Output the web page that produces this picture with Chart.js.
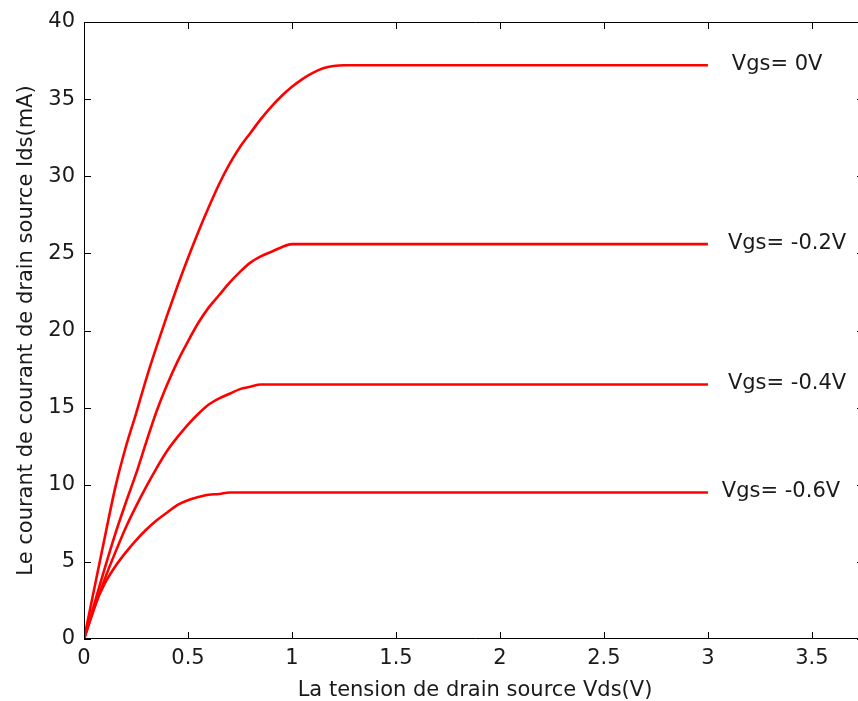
<!DOCTYPE html>
<html>
<head>
<meta charset="utf-8">
<script src="https://cdn.jsdelivr.net/npm/chart.js@4/dist/chart.umd.min.js"></script>
<style>
  html, body { margin: 0; padding: 0; background: #fff; overflow: hidden; }
  #wrap { position: relative; width: 858px; height: 701px; overflow: hidden; }
  #ivChart { position: absolute; left: 0; top: 0; display: block; width: 866px; height: 701px; }
</style>
</head>
<body>
<div id="wrap"><canvas id="ivChart" width="866" height="701"></canvas></div>
<script>
// Vds sample points (V)
const vds = [0, 0.05, 0.1, 0.15, 0.2, 0.25, 0.3, 0.35, 0.4, 0.45, 0.5, 0.55, 0.6, 0.65, 0.7,
  0.75, 0.8, 0.85, 0.9, 0.95, 1.0, 1.05, 1.1, 1.15, 1.2, 1.25, 1.3, 3.0];

// Ids (mA) for each Vgs
const idsVgs0 = [0, 3.3, 6.6, 9.8, 12.4, 14.6, 16.9, 19.0, 21.0, 22.9, 24.7, 26.4, 28.0, 29.5, 30.8,
  31.9, 32.8, 33.7, 34.5, 35.2, 35.8, 36.3, 36.7, 37.0, 37.15, 37.2, 37.2, 37.2];
const idsVgsM02 = [0, 2.3, 4.6, 6.8, 8.8, 10.7, 12.8, 14.8, 16.5, 18.0, 19.3, 20.5, 21.5, 22.3, 23.1,
  23.8, 24.4, 24.8, 25.1, 25.4, 25.6, 25.6, 25.6, 25.6, 25.6, 25.6, 25.6, 25.6];
const idsVgsM04 = [0, 2.0, 3.9, 5.6, 7.2, 8.6, 9.9, 11.1, 12.2, 13.1, 13.9, 14.6, 15.2, 15.6, 15.9,
  16.2, 16.35, 16.5, 16.5, 16.5, 16.5, 16.5, 16.5, 16.5, 16.5, 16.5, 16.5, 16.5];
const idsVgsM06 = [0, 2.1, 3.6, 4.7, 5.6, 6.4, 7.1, 7.7, 8.2, 8.7, 9.0, 9.2, 9.35, 9.4, 9.5,
  9.5, 9.5, 9.5, 9.5, 9.5, 9.5, 9.5, 9.5, 9.5, 9.5, 9.5, 9.5, 9.5];

const seriesNames = ['Vgs= 0V', 'Vgs= -0.2V', 'Vgs= -0.4V', 'Vgs= -0.6V'];
const seriesIds = [idsVgs0, idsVgsM02, idsVgsM04, idsVgsM06];

// curve labels, anchored in data units
const labelX = [3.115, 3.096, 3.096, 3.067];
const labelY = [37.2, 25.6, 16.5, 9.5];

const xTicks = [0, 0.5, 1, 1.5, 2, 2.5, 3, 3.5];
const yTicks = [0, 5, 10, 15, 20, 25, 30, 35, 40];

const FONT = 'DejaVu Sans';
const TEXT = '#1a1a1a';

const datasets = seriesIds.map((ids, i) => ({
  label: seriesNames[i],
  data: vds.map((v, k) => ({ x: v, y: ids[k] })),
  borderColor: '#ff0000',
  borderWidth: 2.6,
  pointRadius: 0,
  showLine: true,
  fill: false,
  cubicInterpolationMode: 'monotone'
}));

// box, inward ticks and the Vgs labels
const matlabAxes = {
  id: 'matlabAxes',
  afterDraw(chart) {
    const { ctx, chartArea: a, scales: { x, y } } = chart;
    ctx.save();
    ctx.strokeStyle = '#000';
    ctx.lineWidth = 1;
    ctx.beginPath();
    // left, bottom, top (right side lies past the picture edge)
    ctx.moveTo(a.left + 0.5, a.top + 0.5);
    ctx.lineTo(a.left + 0.5, a.bottom - 0.5);
    ctx.lineTo(a.right, a.bottom - 0.5);
    ctx.moveTo(a.left + 0.5, a.top + 0.5);
    ctx.lineTo(a.right, a.top + 0.5);
    const len = 7;
    xTicks.forEach(v => {
      const px = Math.round(x.getPixelForValue(v)) + 0.5;
      ctx.moveTo(px, a.bottom); ctx.lineTo(px, a.bottom - len);
      ctx.moveTo(px, a.top); ctx.lineTo(px, a.top + len);
    });
    yTicks.forEach(v => {
      const py = Math.round(y.getPixelForValue(v)) + 0.5;
      ctx.moveTo(a.left, py); ctx.lineTo(a.left + len, py);
      ctx.moveTo(a.right - 2, py); ctx.lineTo(a.right - 2 - len, py);
    });
    ctx.stroke();

    ctx.fillStyle = TEXT;
    ctx.font = '21px "' + FONT + '"';
    ctx.textAlign = 'left';
    ctx.textBaseline = 'middle';
    seriesNames.forEach((name, i) => {
      ctx.fillText(name, x.getPixelForValue(labelX[i]), y.getPixelForValue(labelY[i]) - 1);
    });
    ctx.restore();
  }
};

const ctx = document.getElementById('ivChart').getContext('2d');
new Chart(ctx, {
  type: 'scatter',
  data: { datasets },
  options: {
    responsive: false,
    animation: false,
    devicePixelRatio: 1,
    layout: { padding: { top: 22, right: 0, bottom: 0, left: 0 } },
    plugins: { legend: { display: false }, tooltip: { enabled: false } },
    scales: {
      x: {
        type: 'linear',
        min: 0,
        max: 3.76,
        afterBuildTicks: s => { s.ticks = xTicks.map(v => ({ value: v })); },
        afterFit: s => { s.height = 62; },
        grid: { display: false, drawTicks: false },
        border: { display: false },
        ticks: {
          padding: 7,
          color: TEXT,
          font: { family: FONT, size: 21 },
          maxRotation: 0,
          callback: v => String(v)
        },
        title: {
          display: true,
          text: 'La tension de drain source Vds(V)',
          color: TEXT,
          font: { family: FONT, size: 21, lineHeight: 1 },
          padding: { top: 0, bottom: 0 }
        }
      },
      y: {
        type: 'linear',
        min: 0,
        max: 40,
        afterBuildTicks: s => { s.ticks = yTicks.map(v => ({ value: v })); },
        afterFit: s => { s.width = 84; },
        grid: { display: false, drawTicks: false },
        border: { display: false },
        ticks: {
          padding: 9,
          color: TEXT,
          font: { family: FONT, size: 21 },
          callback: v => String(v)
        },
        title: {
          display: true,
          text: 'Le courant de courant de drain source Ids(mA)',
          color: TEXT,
          font: { family: FONT, size: 21, lineHeight: 1 },
          padding: { top: 16, bottom: 0 }
        }
      }
    }
  },
  plugins: [matlabAxes]
});
</script>
</body>
</html>
